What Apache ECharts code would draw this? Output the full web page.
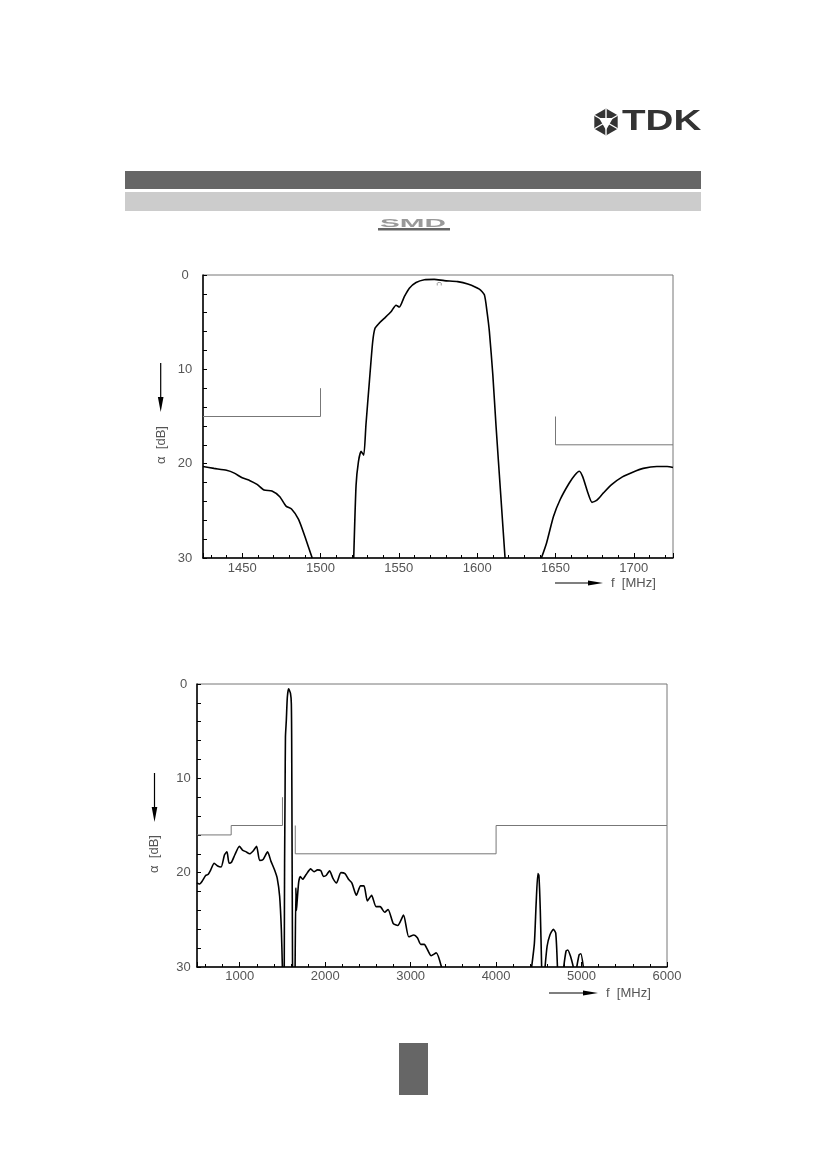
<!DOCTYPE html>
<html>
<head>
<meta charset="utf-8">
<script src="https://cdn.jsdelivr.net/npm/echarts@6/dist/echarts.min.js"></script>
<style>
  html, body { margin: 0; padding: 0; background: #fff; }
  #chart { width: 826px; height: 1169px; }
</style>
</head>
<body>
<div id="chart"></div>
<script>
// passband detail, 1425..1725 MHz (null = curve leaves the plot)
var narrowFreq = [1425, 1432, 1440, 1445, 1450, 1455, 1459.5, 1464, 1469, 1474, 1478, 1481.5, 1486, 1490, 1494.7,
  1505,
  1521.2, 1522.7, 1524.2, 1525.9, 1527.6, 1529, 1531.2, 1533.3, 1534.8, 1537.5, 1540.7, 1545, 1548.2, 1550.3,
  1553.5, 1556.7, 1561, 1566.3, 1572.6, 1579, 1587.6, 1594, 1601.4, 1604.6, 1606.3, 1607.8, 1610, 1612, 1615.2, 1617.8,
  1630,
  1641, 1644.3, 1648.7, 1653, 1658.6, 1662.4, 1665.2, 1667.4, 1670.7, 1673.3, 1676.2, 1680.6, 1686, 1692.7,
  1699.3, 1706, 1714.7, 1721.3, 1725];
var narrowAtt = [20.3, 20.5, 20.7, 21.0, 21.5, 21.8, 22.2, 22.8, 22.9, 23.5, 24.5, 24.8, 25.9, 27.7, 30,
  null,
  30, 22.3, 19.8, 18.7, 19.1, 15.9, 11.3, 7.1, 5.65, 5.1, 4.6, 3.9, 3.2, 3.4,
  2.3, 1.4, 0.8, 0.5, 0.46, 0.6, 0.7, 0.95, 1.5, 2.1, 3.9, 6.0, 10.6, 15.9, 23.7, 30,
  null,
  30, 28.4, 25.6, 23.8, 22.1, 21.2, 20.8, 21.4, 23.1, 24.1, 23.9, 23.1, 22.2, 21.4,
  20.9, 20.5, 20.3, 20.3, 20.4];
var narrowMaskFreq = [1425, 1500, 1500, 1575, 1650, 1650, 1725];
var narrowMaskAtt = [15, 15, 12, null, 15, 18, 18];
var narrowMarkFreq = [1575.8];
var narrowMarkAtt = [0.95];

// wideband, 500..6000 MHz
var wideFreq = [500, 528, 560, 601, 629, 661, 701, 742, 782, 822, 851, 875, 903, 943, 996, 1032, 1076, 1116,
  1157, 1197, 1233, 1274, 1326, 1366, 1407, 1439, 1467, 1487, 1499,
  1510,
  1521, 1525, 1531, 1535, 1545, 1557, 1572, 1594, 1604, 1608, 1612, 1618,
  1630,
  1648, 1657, 1664, 1672, 1690, 1709, 1737, 1777, 1830, 1870, 1910, 1950, 1979, 2011, 2051, 2091, 2132,
  2184, 2232, 2273, 2313, 2365, 2414, 2454, 2494, 2543, 2595, 2643, 2696, 2736, 2797, 2849, 2917, 2978,
  3038, 3079, 3119, 3159, 3199, 3240, 3300, 3361,
  3900,
  4416, 4448, 4469, 4489, 4501, 4517, 4533,
  4550,
  4573, 4597, 4630, 4670, 4698, 4718,
  4750,
  4791, 4819, 4839, 4872, 4904,
  4920,
  4944, 4972, 4992, 5021];
var wideAtt = [21.1, 21.2, 20.9, 20.3, 20.2, 19.7, 19.0, 19.3, 19.4, 18.1, 17.8, 19.0, 18.9, 18.1, 17.2, 17.6, 17.8, 18.0,
  17.7, 17.2, 18.7, 18.6, 17.8, 18.8, 19.7, 20.6, 22.5, 26.0, 30,
  null,
  30, 19, 11, 5.6, 3.9, 1.4, 0.5, 1.0, 2.1, 6, 16, 30,
  null,
  30, 21.6, 24.0, 23.0, 21.0, 20.4, 20.7, 20.2, 19.6, 19.9, 19.7, 19.8, 20.4, 20.3, 19.8, 20.6, 21.1,
  20.0, 20.1, 20.7, 21.1, 22.4, 21.4, 21.4, 23.0, 22.4, 23.6, 23.6, 24.2, 23.9, 25.4, 25.6, 24.5, 26.8,
  26.6, 26.9, 27.6, 27.6, 28.2, 28.8, 28.5, 30,
  null,
  30, 27.5, 23.2, 20.1, 20.3, 23.9, 30,
  null,
  30, 27.8, 26.6, 26.0, 26.4, 30,
  null,
  30, 28.3, 28.2, 28.9, 30,
  null,
  30, 28.7, 28.6, 30];
var wideMaskFreq = [500, 900, 900, 1500, 1500, 1575, 1650, 1650, 4000, 4000, 6000];
var wideMaskAtt = [16, 16, 15, 15, 12, null, 15, 18, 18, 15, 15];

var attTicks = [0, 10, 20, 30];

function pairs(fs, as) {
  return fs.map(function (f, i) { return [f, as[i] === null ? '-' : as[i]]; });
}

var labelFont = 'Liberation Sans';
var labelColor = '#555';

function xAxisFor(idx, min, max, margin, showMax) {
  return {
    type: 'value', gridIndex: idx, min: min, max: max,
    axisLine: { onZero: false, lineStyle: { color: '#000', width: 1.5 } },
    axisTick: { inside: true, length: 5, lineStyle: { color: '#000' } },
    minorTick: { show: true, splitNumber: 5, length: 3, lineStyle: { color: '#000' } },
    splitLine: { show: false },
    axisLabel: { showMinLabel: false, showMaxLabel: showMax, margin: margin,
      formatter: function (v) { return String(v); },
      fontFamily: labelFont, fontSize: 13, color: labelColor }
  };
}
function yAxisFor(idx, margin) {
  return {
    type: 'value', gridIndex: idx, inverse: true,
    min: attTicks[0], max: attTicks[attTicks.length - 1], interval: 10,
    axisLine: { show: true, onZero: false, lineStyle: { color: '#000', width: 1.5 } },
    axisTick: { show: true, inside: true, length: 4, lineStyle: { color: '#000' } },
    minorTick: { show: true, splitNumber: 5, length: 4, lineStyle: { color: '#000' } },
    splitLine: { show: false },
    axisLabel: { align: 'center', margin: margin,
      formatter: function (v) { return String(v); },
      fontFamily: labelFont, fontSize: 13, color: labelColor }
  };
}

var curve = { color: '#000', width: 1.6 };
var mask = { color: '#777', width: 1 };

function arrowDown(x, y0, y1) {
  return [
    { type: 'line', shape: { x1: x, y1: y0, x2: x, y2: y1 - 10 }, style: { stroke: '#000', lineWidth: 1.2 } },
    { type: 'polygon', shape: { points: [[x - 2.8, y1 - 15], [x + 2.8, y1 - 15], [x, y1]] }, style: { fill: '#000' } }
  ];
}
function arrowRight(x0, x1, y) {
  return [
    { type: 'line', shape: { x1: x0, y1: y, x2: x1 - 10, y2: y }, style: { stroke: '#000', lineWidth: 1.2 } },
    { type: 'polygon', shape: { points: [[x1 - 15, y - 2.5], [x1 - 15, y + 2.5], [x1, y]] }, style: { fill: '#000' } }
  ];
}
function vText(x, y, t) {
  return { type: 'text', x: x, y: y, rotation: Math.PI / 2,
    style: { text: t, fill: labelColor, font: '13px ' + labelFont, textAlign: 'center', textVerticalAlign: 'middle' } };
}
function hText(x, y, t) {
  return { type: 'text', x: x, y: y,
    style: { text: t, fill: labelColor, font: '13px ' + labelFont, textAlign: 'left', textVerticalAlign: 'middle' } };
}

// TDK emblem: dark hexagon with white facets
var cx = 606, cy = 122, r = 13.5;
var hex = [];
for (var k = 0; k < 6; k++) {
  var a = Math.PI / 6 + k * Math.PI / 3;
  hex.push([cx + r * Math.cos(a), cy + r * Math.sin(a)]);
}
var emblem = [{ type: 'polygon', shape: { points: hex }, style: { fill: '#333' } },
  { type: 'polygon', shape: { points: [[cx - 7, cy - 4], [cx + 7, cy - 4], [cx, cy + 8]] }, style: { fill: '#fff' } }];
hex.forEach(function (p) {
  emblem.push({ type: 'line', shape: { x1: cx, y1: cy, x2: p[0], y2: p[1] }, style: { stroke: '#fff', lineWidth: 1.4 } });
});

var graphics = [
  { type: 'rect', shape: { x: 125, y: 171, width: 576, height: 18 }, style: { fill: '#666' } },
  { type: 'rect', shape: { x: 125, y: 192, width: 576, height: 19 }, style: { fill: '#ccc' } },
  { type: 'text', x: 380, y: 223.5, scaleX: 2.7,
    style: { text: 'SMD', fill: '#999', font: 'bold 11px Liberation Sans', textVerticalAlign: 'middle' } },
  { type: 'rect', shape: { x: 378, y: 228, width: 72, height: 2.5 }, style: { fill: '#666' } },
  { type: 'text', x: 622, y: 122, scaleX: 1.33,
    style: { text: 'TDK', fill: '#333', font: 'bold 29px Liberation Sans', textVerticalAlign: 'middle' } },
  { type: 'rect', shape: { x: 399, y: 1043, width: 29, height: 52 }, style: { fill: '#666' } },
  vText(161, 445, 'α  [dB]'),
  hText(611, 583, 'f  [MHz]'),
  vText(154.5, 854, 'α  [dB]'),
  hText(606, 993, 'f  [MHz]')
].concat(emblem, arrowDown(160.7, 363, 412), arrowRight(555, 603, 583),
  arrowDown(154.5, 773, 822), arrowRight(549, 598, 993));

var myChart = echarts.init(document.getElementById('chart'));
var option = {
  animation: false,
  backgroundColor: '#fff',
  grid: [
    { left: 203, top: 275, width: 470, height: 283, show: true, borderColor: '#777', borderWidth: 1 },
    { left: 197, top: 684, width: 470, height: 283, show: true, borderColor: '#777', borderWidth: 1 }
  ],
  xAxis: [xAxisFor(0, 1425, 1725, 4, false), xAxisFor(1, 500, 6000, 3, true)],
  yAxis: [yAxisFor(0, 18), yAxisFor(1, 13.5)],
  graphic: graphics,
  series: [
    { type: 'line', xAxisIndex: 0, yAxisIndex: 0, data: pairs(narrowMaskFreq, narrowMaskAtt),
      showSymbol: false, lineStyle: mask, z: 2 },
    { type: 'line', xAxisIndex: 0, yAxisIndex: 0, data: pairs(narrowFreq, narrowAtt),
      showSymbol: false, smooth: 0.2, lineStyle: curve, z: 3 },
    { type: 'scatter', xAxisIndex: 0, yAxisIndex: 0, data: pairs(narrowMarkFreq, narrowMarkAtt),
      symbol: 'path://M0,10 L0,3 Q0,0 5,0 Q10,0 10,3 L10,10', symbolSize: [4, 3],
      itemStyle: { color: 'none', borderColor: '#666', borderWidth: 0.8 }, z: 3 },
    { type: 'line', xAxisIndex: 1, yAxisIndex: 1, data: pairs(wideMaskFreq, wideMaskAtt),
      showSymbol: false, lineStyle: mask, z: 2 },
    { type: 'line', xAxisIndex: 1, yAxisIndex: 1, data: pairs(wideFreq, wideAtt),
      showSymbol: false, smooth: 0.2, lineStyle: curve, z: 3 }
  ]
};
myChart.setOption(option);
</script>
</body>
</html>
